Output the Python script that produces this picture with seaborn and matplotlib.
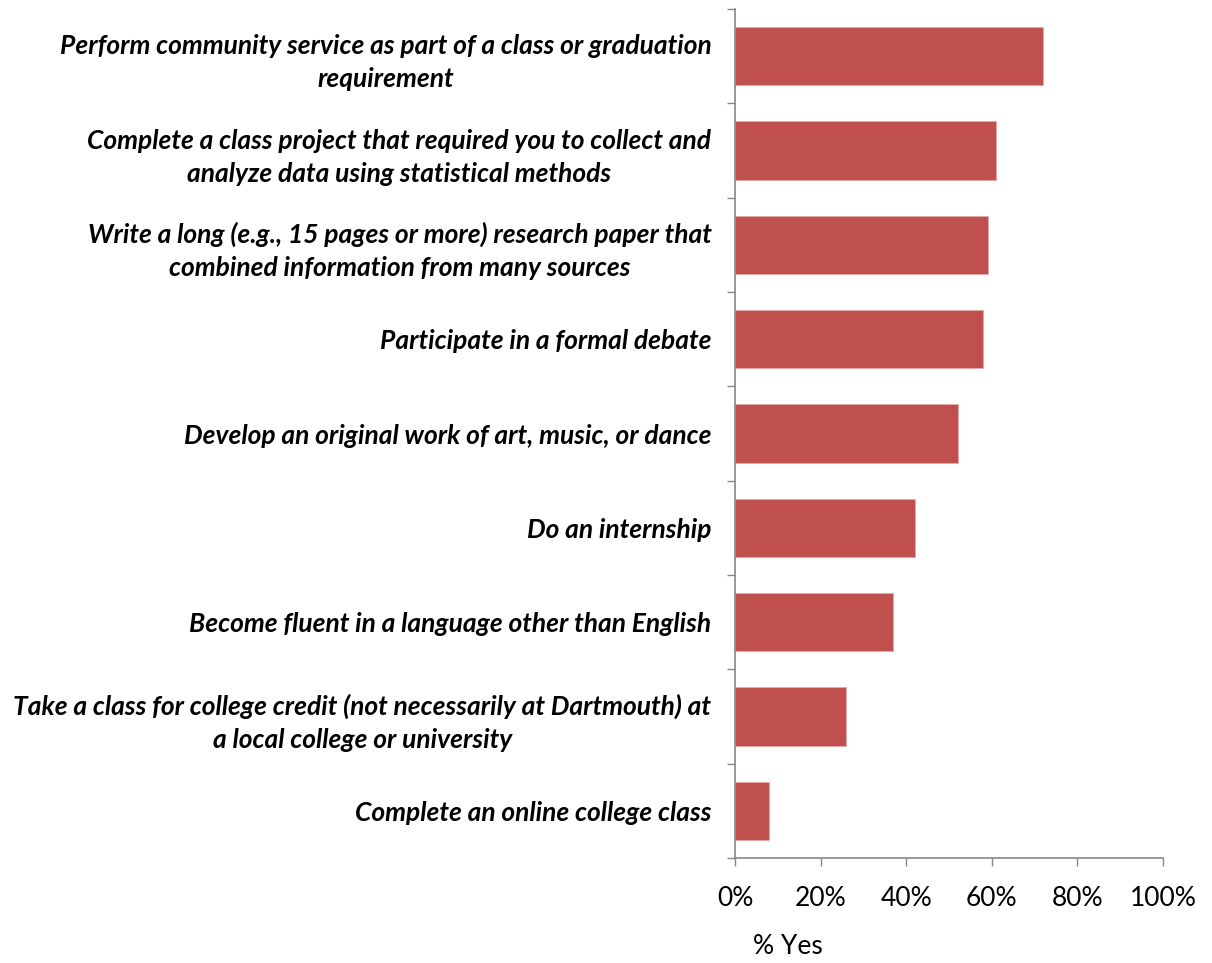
import numpy as np
import pandas as pd
import matplotlib.pyplot as plt
import seaborn as sns
from matplotlib.ticker import FixedLocator, PercentFormatter

# 数据
activities = [
    'Perform community service as part of a class or graduation\nrequirement',
    'Complete a class project that required you to collect and\nanalyze data using statistical methods',
    'Write a long (e.g., 15 pages or more) research paper that\ncombined information from many sources',
    'Participate in a formal debate',
    'Develop an original work of art, music, or dance',
    'Do an internship',
    'Become fluent in a language other than English',
    'Take a class for college credit (not necessarily at Dartmouth) at\na local college or university',
    'Complete an online college class',
]
pct_yes = [72, 61, 59, 58, 52, 42, 37, 26, 8]
x_ticks = [0, 20, 40, 60, 80, 100]

bar_color = '#C0504D'
axis_color = '#868686'

sns.set_style('white')
plt.rcParams['font.family'] = ['Lato', 'DejaVu Sans']
plt.rcParams['text.color'] = 'black'
plt.rcParams['xtick.labelcolor'] = 'black'
plt.rcParams['ytick.labelcolor'] = 'black'

df = pd.DataFrame({'activity': activities, 'pct': pct_yes})

fig = plt.figure(figsize=(12.12, 9.63), dpi=100)
ax = fig.add_axes([735 / 1212, 1 - 858 / 963, 428 / 1212, (858 - 9) / 963])

sns.barplot(data=df, x='pct', y='activity', orient='h', color=bar_color,
            width=0.62, saturation=1, edgecolor='#E8A9A7', linewidth=0.6, ax=ax)

ax.set_xlim(0, 100)
ax.set_ylim(len(activities) - 0.5, -0.5)
ax.set_xticks(x_ticks)
ax.xaxis.set_major_formatter(PercentFormatter(decimals=0))

# 分类边界处的刻度线
ax.yaxis.set_minor_locator(FixedLocator(np.arange(-0.5, len(activities), 1.0)))
ax.tick_params(axis='y', which='major', length=0, pad=17)
ax.tick_params(axis='y', which='minor', left=True, length=6, width=1, color=axis_color)
ax.tick_params(axis='x', which='major', bottom=True, length=6, width=1, color=axis_color,
               pad=14, labelsize=19)

for lbl in ax.get_yticklabels():
    lbl.set_fontsize(19)
    lbl.set_fontweight('bold')
    lbl.set_fontstyle('italic')
    lbl.set_multialignment('center')
    lbl.set_linespacing(1.45)
    lbl.set_color('black')

for side in ['top', 'right']:
    ax.spines[side].set_visible(False)
for side in ['left', 'bottom']:
    ax.spines[side].set_color(axis_color)
    ax.spines[side].set_linewidth(1.2)

ax.set_ylabel('')
ax.set_xlabel('% Yes', fontsize=19, color='black')
ax.xaxis.set_label_coords((788 - 735) / 428, -(946 - 858) / 849, transform=ax.transAxes)
ax.xaxis.label.set_va('center')

fig.savefig('out.png', dpi=100)
